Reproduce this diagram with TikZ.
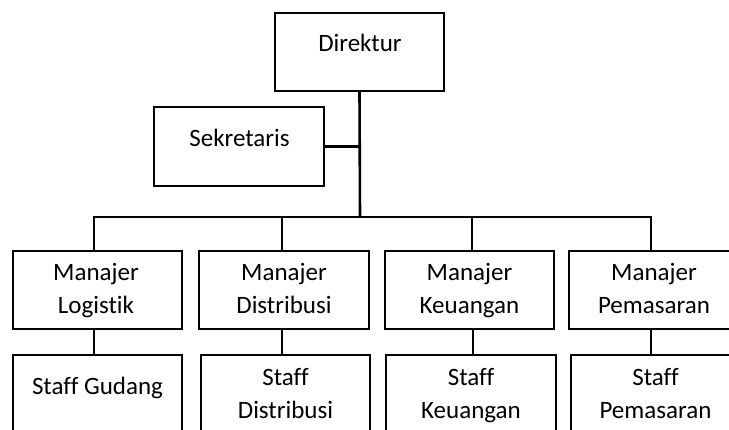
\documentclass[tikz,border=0pt]{standalone}
\usepackage{fontspec}
\setmainfont{Carlito}[Ligatures=CommonOff]
\begin{document}
\begin{tikzpicture}[x=1pt,y=-1pt,
  box/.style={draw, line width=2.6pt, inner sep=0pt, outer sep=0pt},
  lbl/.style={anchor=base, align=center, inner sep=0pt, font=\fontsize{25}{33}\selectfont},
  conn/.style={line width=2.6pt}]
\useasboundingbox (0,0) rectangle (729,430);
\clip (0,0) rectangle (729,430);
% boxes
\node[box, minimum width=169, minimum height=78] (d) at (359.5,52) {};
\node[box, minimum width=170, minimum height=79] (s) at (239,146.5) {};
\node[box, minimum width=169, minimum height=78] (m1) at (97.5,290) {};
\node[box, minimum width=170, minimum height=78] (m2) at (284,290) {};
\node[box, minimum width=169, minimum height=78] (m3) at (469.5,290) {};
\node[box, minimum width=171, minimum height=78] (m4) at (654.5,290) {};
\node[box, minimum width=169, minimum height=90] (s1) at (97.5,400) {};
\node[box, minimum width=169, minimum height=90] (s2) at (285.5,400) {};
\node[box, minimum width=170, minimum height=90] (s3) at (471,400) {};
\node[box, minimum width=169, minimum height=90] (s4) at (655.5,400) {};
% labels
\node[lbl] (td) at (360,52) {Direktur};
\node[lbl] (ts) at (239.5,147) {Sekretaris};
\node[lbl] (tm1) at (96,314) {Manajer\\Logistik};
\node[lbl] (tm2) at (284,314) {Manajer\\Distribusi};
\node[lbl] (tm3) at (469.5,314) {Manajer\\Keuangan};
\node[lbl] (tm4) at (654,314) {Manajer\\Pemasaran};
\node[lbl] (ts1) at (97.5,395) {Staff Gudang};
\node[lbl] (ts2) at (285.5,419) {Staff\\Distribusi};
\node[lbl] (ts3) at (471,419) {Staff\\Keuangan};
\node[lbl] (ts4) at (655.5,419) {Staff\\Pemasaran};
% connectors
\coordinate (j) at (360,217);
\draw[conn] (d.south) -- (j);
\draw[conn] (s.east) -- (s.east -| d.south);
\draw[conn] ([xshift=-3.5pt]m1.north) |- (j);
\draw[conn] (j) -| ([xshift=-3.5pt]m4.north);
\draw[conn] ([xshift=-2pt]m2.north) -- ([xshift=-2pt]m2.north |- j);
\draw[conn] ([xshift=2.5pt]m3.north) -- ([xshift=2.5pt]m3.north |- j);
\draw[conn] ([xshift=-3.5pt]m1.south) -- ([xshift=-3.5pt]m1.south |- s1.north);
\draw[conn] ([xshift=-2pt]m2.south) -- ([xshift=-2pt]m2.south |- s2.north);
\draw[conn] ([xshift=3.5pt]m3.south) -- ([xshift=3.5pt]m3.south |- s3.north);
\draw[conn] ([xshift=-3.5pt]m4.south) -- ([xshift=-3.5pt]m4.south |- s4.north);
\end{tikzpicture}
\end{document}
